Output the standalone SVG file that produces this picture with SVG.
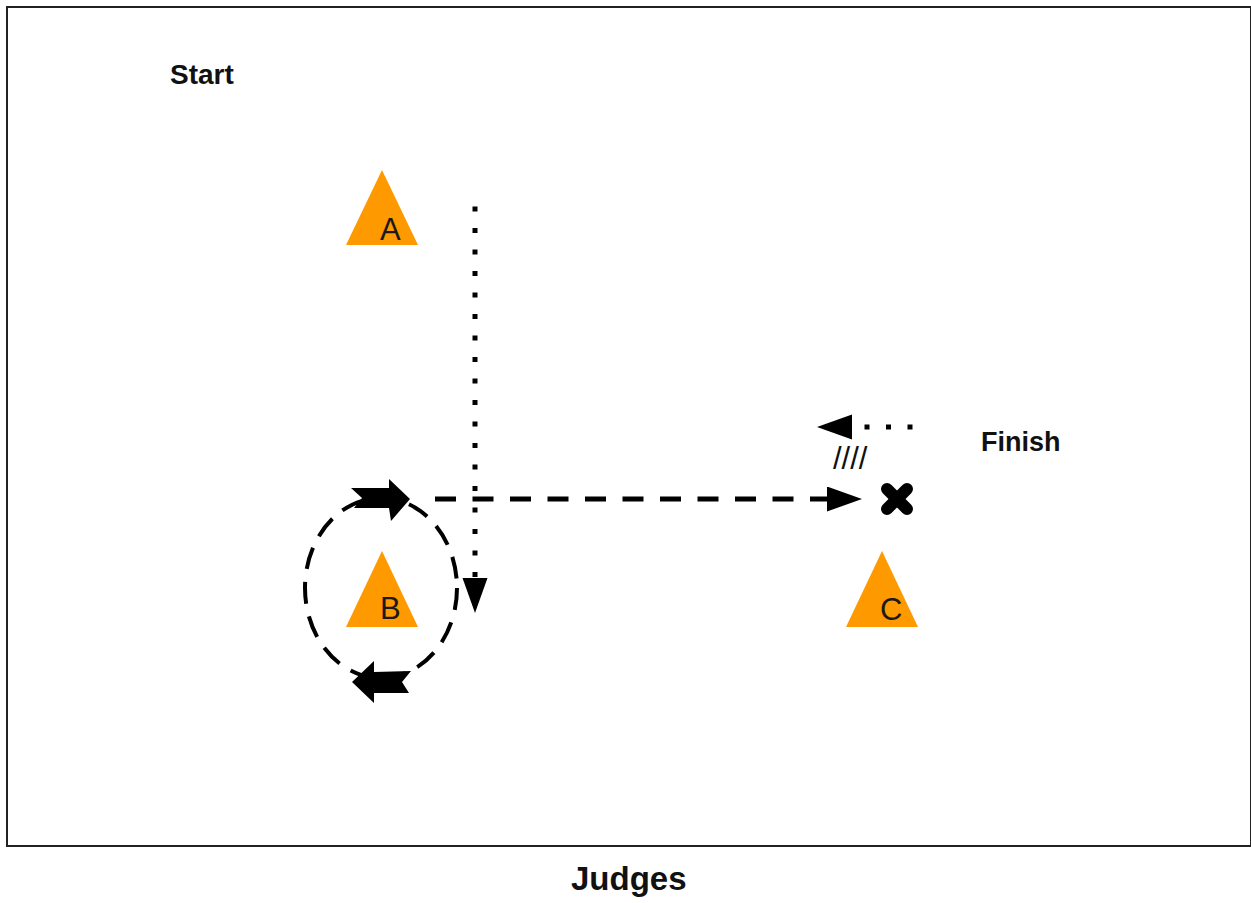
<svg xmlns="http://www.w3.org/2000/svg" width="1251" height="903" viewBox="0 0 1251 903">
  <style>
    .cone { fill: #FF9900; stroke: none; }
    .lbl { font-family: "Liberation Sans", Arial, sans-serif; font-size: 31px; fill: #1a1a1a; }
    .title { font-family: "Liberation Sans", Arial, sans-serif; font-size: 27px; font-weight: bold; fill: #111; }
    .dotted { fill: none; stroke: #000; stroke-width: 5; stroke-dasharray: 5 16.5; }
    .dashed { fill: none; stroke: #000; stroke-width: 5; stroke-dasharray: 21 16.5; }
    .loop { fill: none; stroke: #000; stroke-width: 4; stroke-dasharray: 22 13; }
    .block { fill: #000; stroke: none; }
  </style>
  <defs>
    <marker id="head" markerUnits="userSpaceOnUse" markerWidth="36" markerHeight="26" refX="0" refY="12.5" orient="auto">
      <path d="M0,0 L35,12.5 L0,25 z" fill="#000"/>
    </marker>
  </defs>
  <rect x="0" y="0" width="1251" height="903" fill="#fff"/>
  <rect id="frame" x="7" y="7" width="1244" height="839" fill="none" stroke="#222" stroke-width="2"/>

  <g id="start-label"><text class="title" x="170" y="84" style="font-size:28px">Start</text></g>
  <g id="finish-label"><text class="title" x="981" y="451">Finish</text></g>
  <g id="judges-label"><text class="title" x="571" y="890" style="font-size:33px">Judges</text></g>

  <g id="cone-A">
    <polygon class="cone" points="382,170 346,245 418,245"/>
    <text class="lbl" x="380" y="240">A</text>
  </g>
  <g id="cone-B">
    <polygon class="cone" points="382,551 346,627 418,627"/>
    <text class="lbl" x="380" y="619">B</text>
  </g>
  <g id="cone-C">
    <polygon class="cone" points="882,551 846,627 918,627"/>
    <text class="lbl" x="880" y="620">C</text>
  </g>

  <g id="finish-mark">
    <line x1="887" y1="489" x2="907" y2="509" stroke="#000" stroke-width="12" stroke-linecap="round"/>
    <line x1="907" y1="489" x2="887" y2="509" stroke="#000" stroke-width="12" stroke-linecap="round"/>
  </g>
  <g id="hatch">
    <text x="833" y="469" font-family="'Liberation Sans', Arial, sans-serif" font-size="31" fill="#111">////</text>
  </g>

  <g id="connectors">
    <line class="dotted" x1="475" y1="206.5" x2="475" y2="578" marker-end="url(#head)"/>
    <line class="dashed" x1="435" y1="499" x2="827" y2="499" marker-end="url(#head)"/>
    <line class="dotted" x1="912.5" y1="427" x2="852" y2="427" marker-end="url(#head)"/>
    <ellipse class="loop" cx="381" cy="588" rx="76" ry="90"/>
    <polygon class="block" points="351,488 389,488 389,479 410,499 391,521 389,508 354,508 362,498"/>
    <polygon class="block" points="352,682 374,661 374,672 411,671 402,682 409,693 374,693 374,703"/>
  </g>
</svg>
